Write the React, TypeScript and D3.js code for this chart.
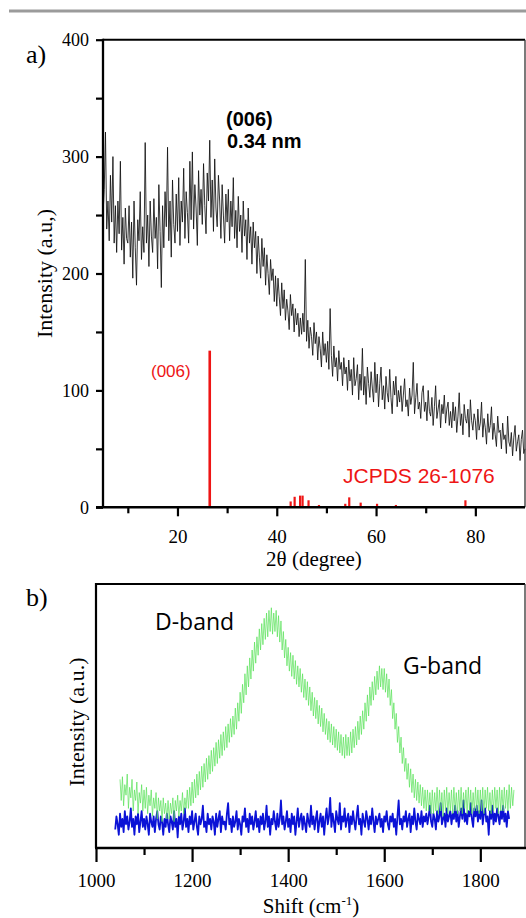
import { useEffect, useRef } from 'react';
import * as d3 from 'd3';

const W = 526;
const H = 918;

const SERIF = '"Liberation Serif", "Times New Roman", serif';
const SANS = '"Liberation Sans", Arial, sans-serif';
const BAND_FONT = '"Open Sans", "Noto Sans", sans-serif';
const RED = '#ee1515';

// a) XRD, 2θ from 5° to 90°, read every 0.25°
const xrdStart = 5;
const xrdStep = 0.25;
const xrdIntensity = [
  250, 272, 321, 238, 262, 228, 284, 244, 300, 226, 258, 218, 262, 234, 296, 220, 248, 208, 256, 230,
  226, 258, 214, 244, 196, 262, 222, 190, 246, 228, 270, 212, 240, 218, 312, 226, 250, 206, 262, 232,
  218, 264, 230, 248, 204, 276, 236, 188, 258, 222, 270, 240, 308, 228, 262, 214, 280, 242, 226, 268,
  236, 282, 224, 262, 244, 290, 230, 270, 252, 226, 296, 246, 304, 238, 276, 256, 224, 288, 250, 272,
  242, 294, 258, 234, 286, 262, 314, 248, 280, 236, 298, 256, 240, 284, 262, 230, 276, 250, 226, 268,
  244, 272, 228, 262, 240, 282, 230, 254, 222, 266, 236, 250, 218, 262, 232, 246, 212, 256, 226, 240,
  208, 244, 222, 236, 200, 232, 214, 196, 230, 206, 222, 190, 216, 200, 182, 212, 194, 204, 176, 198,
  172, 196, 180, 164, 192, 170, 186, 160, 178, 168, 152, 182, 164, 174, 150, 170, 156, 166, 146, 162,
  148, 166, 150, 212, 142, 160, 136, 154, 146, 130, 158, 140, 150, 126, 146, 136, 120, 150, 130, 140,
  124, 142, 118, 170, 130, 112, 138, 120, 128, 108, 134, 118, 124, 104, 128, 114, 120, 100, 126, 108,
  118, 96, 128, 104, 110, 122, 92, 114, 100, 136, 96, 112, 88, 120, 106, 94, 116, 102, 90, 124,
  98, 114, 86, 106, 120, 92, 104, 84, 112, 98, 90, 118, 94, 80, 108, 96, 112, 86, 100, 90,
  104, 82, 96, 110, 86, 92, 78, 102, 88, 96, 124, 80, 94, 106, 84, 90, 76, 98, 104, 82,
  90, 74, 100, 82, 78, 94, 70, 86, 104, 76, 84, 92, 68, 88, 80, 96, 72, 84, 90, 70,
  82, 68, 90, 74, 86, 64, 78, 98, 70, 80, 62, 88, 76, 72, 84, 60, 92, 74, 66, 80,
  74, 58, 84, 66, 72, 90, 60, 76, 68, 54, 80, 64, 70, 86, 58, 72, 62, 52, 78, 64,
  66, 50, 72, 58, 62, 46, 78, 56, 52, 64, 44, 60, 70, 48, 56, 62, 40, 58, 66, 46,
  50,
];

// JCPDS 26-1076 reference lines
const refTheta = [26.5, 42.8, 43.6, 44.7, 45.2, 46.4, 48.5, 53.8, 54.6, 56.9, 60.2, 64.0, 78.0];
const refIntensity = [134, 5, 9, 10, 10, 6, 2, 3, 8.5, 4, 3, 2, 6];

const xMajorA = [20, 40, 60, 80];
const xMinorA = [10, 30, 50, 70];
const yMajorA = [0, 100, 200, 300, 400];
const yMinorA = [50, 150, 250, 350];

// b) Raman, arbitrary intensity, read every 2.5 cm-1
const greenStart = 1050;
const blueStart = 1040;
const ramanStep = 2.5;
const ramanGreen = [
  26, 18, 27, 16, 24, 20, 28, 15, 23, 19, 26, 14, 22, 18, 25, 13, 21, 17, 24, 14,
  22, 15, 23, 13, 20, 16, 22, 12, 19, 15, 21, 11, 19, 14, 18, 10, 19, 13, 17, 11,
  18, 11, 17, 13, 19, 10, 18, 14, 20, 12, 18, 14, 21, 13, 19, 15, 22, 15, 23, 16,
  25, 17, 26, 19, 28, 20, 29, 22, 31, 23, 32, 25, 34, 26, 35, 28, 37, 29, 38, 31,
  40, 32, 41, 34, 43, 35, 44, 37, 46, 38, 47, 40, 49, 42, 50, 43, 53, 45, 55, 48,
  59, 51, 62, 55, 66, 58, 69, 61, 72, 64, 75, 67, 78, 70, 80, 73, 83, 75, 85, 77,
  87, 79, 89, 80, 90, 82, 91, 81, 89, 82, 90, 80, 88, 78, 86, 75, 82, 72, 79, 69,
  76, 67, 74, 65, 73, 64, 71, 62, 69, 61, 68, 59, 66, 57, 64, 56, 63, 54, 61, 52,
  59, 50, 57, 49, 56, 47, 54, 46, 53, 44, 51, 43, 49, 41, 48, 40, 47, 39, 46, 38,
  45, 37, 44, 36, 43, 35, 42, 34, 43, 35, 42, 35, 44, 36, 45, 38, 46, 39, 48, 41,
  50, 43, 52, 45, 55, 48, 58, 50, 61, 54, 63, 56, 65, 58, 67, 60, 69, 61, 68, 60,
  68, 59, 66, 57, 64, 54, 60, 49, 55, 45, 51, 40, 46, 36, 42, 32, 38, 29, 34, 26,
  32, 23, 30, 21, 28, 19, 26, 18, 25, 17, 24, 16, 23, 15, 22, 14, 22, 14, 21, 13,
  22, 13, 21, 14, 23, 13, 22, 14, 21, 12, 22, 14, 23, 13, 21, 14, 22, 13, 23, 14,
  21, 13, 22, 14, 23, 13, 21, 15, 22, 13, 23, 14, 22, 13, 21, 14, 23, 14, 22, 13,
  22, 14, 23, 13, 22, 15, 23, 14, 21, 13, 22, 14, 23, 15, 22, 13, 23, 14, 22, 14,
  23, 15, 22, 14, 24, 15, 23, 16, 22,
];
const ramanBlue = [
  7, 12, 9, 5, 13, 8, 11, 6, 14, 9, 12, 7, 10, 15, 8, 11, 5, 12, 9, 13,
  6, 10, 14, 8, 11, 7, 12, 9, 5, 13, 10, 8, 12, 6, 11, 14, 9, 7, 12, 10,
  5, 11, 8, 13, 9, 6, 12, 10, 7, 14, 8, 11, 4, 12, 9, 13, 7, 10, 15, 8,
  11, 6, 12, 9, 14, 7, 10, 13, 8, 5, 12, 9, 11, 16, 8, 10, 6, 13, 9, 11,
  7, 12, 10, 5, 13, 8, 11, 14, 6, 12, 9, 10, 7, 13, 17, 9, 11, 6, 12, 8,
  10, 14, 7, 11, 9, 5, 12, 10, 15, 8, 11, 6, 13, 9, 12, 7, 10, 14, 8, 11,
  6, 12, 9, 13, 7, 10, 16, 8, 12, 5, 11, 9, 14, 10, 7, 13, 8, 11, 18, 9,
  12, 7, 10, 14, 8, 11, 6, 13, 9, 12, 5, 10, 15, 8, 11, 13, 7, 12, 9, 6,
  13, 10, 8, 16, 9, 12, 7, 11, 14, 6, 10, 13, 8, 12, 5, 11, 15, 9, 12, 19,
  8, 13, 10, 6, 14, 11, 9, 17, 7, 12, 10, 15, 8, 11, 13, 6, 12, 9, 14, 10,
  7, 12, 16, 9, 11, 5, 13, 10, 8, 14, 11, 7, 12, 9, 15, 10, 6, 12, 9, 11,
  13, 8, 11, 6, 12, 10, 14, 9, 7, 12, 10, 13, 8, 11, 5, 12, 18, 9, 11, 7,
  12, 10, 14, 8, 11, 13, 6, 12, 9, 15, 10, 7, 13, 11, 9, 14, 8, 12, 10, 13,
  9, 12, 16, 10, 8, 13, 11, 7, 14, 10, 12, 17, 9, 11, 13, 8, 15, 10, 12, 14,
  9, 13, 11, 16, 10, 14, 8, 12, 15, 11, 18, 10, 13, 9, 14, 12, 17, 11, 8, 15,
  12, 16, 10, 14, 11, 18, 9, 13, 15, 10, 12, 5, 14, 11, 16, 9, 13, 10, 15, 12,
  9, 14, 11, 16, 10, 13, 8, 14, 11,
];

const xMajorB = [1000, 1200, 1400, 1600, 1800];
const xMinorB = [1100, 1300, 1500, 1700];

export default function App() {
  const svgRef = useRef<SVGSVGElement>(null);

  useEffect(() => {
    if (!svgRef.current) return;
    const svg = d3.select(svgRef.current);
    svg.selectAll('*').remove();

    // grey rule at the top of the page
    svg.append('line')
      .attr('x1', 9).attr('x2', W).attr('y1', 11).attr('y2', 11)
      .attr('stroke', '#9b9b9b').attr('stroke-width', 3);

    const styleAxis = (g: any, size: number) => {
      g.select('.domain').remove();
      g.attr('font-family', SERIF).attr('font-size', size);
      g.selectAll('.tick line').attr('stroke', '#000').attr('stroke-width', 2.2);
      g.selectAll('.tick text')
        .attr('fill', '#000')
        .attr('font-family', SERIF)
        .attr('font-size', size);
    };

    // ---------- a) XRD ----------
    const xA = d3.scaleLinear().domain([5, 90]).range([103, 525]);
    const yA = d3.scaleLinear().domain([0, 400]).range([507.3, 39.7]);

    const gA = svg.append('g');

    const xrdLine = d3.line<number>()
      .x((d, i) => xA(xrdStart + i * xrdStep))
      .y(d => yA(d));

    gA.append('path')
      .datum(xrdIntensity)
      .attr('d', xrdLine)
      .attr('fill', 'none')
      .attr('stroke', '#111')
      .attr('stroke-width', 0.85)
      .attr('stroke-linejoin', 'round');

    gA.selectAll('.ref-line')
      .data(refTheta)
      .join('line')
      .attr('class', 'ref-line')
      .attr('x1', d => xA(d)).attr('x2', d => xA(d))
      .attr('y1', yA(0))
      .attr('y2', (d, i) => yA(refIntensity[i]))
      .attr('stroke', RED)
      .attr('stroke-width', (d, i) => (i === 0 ? 2.6 : 2.2));

    // frame
    gA.append('line').attr('x1', xA(5)).attr('x2', xA(90)).attr('y1', yA(400)).attr('y2', yA(400))
      .attr('stroke', '#000').attr('stroke-width', 2);
    gA.append('line').attr('x1', xA(90)).attr('x2', xA(90)).attr('y1', yA(400)).attr('y2', yA(0))
      .attr('stroke', '#333').attr('stroke-width', 1.3);
    gA.append('line').attr('x1', xA(5)).attr('x2', xA(5)).attr('y1', yA(400) - 1).attr('y2', yA(0))
      .attr('stroke', '#000').attr('stroke-width', 2.3);
    gA.append('line').attr('x1', xA(5) - 7).attr('x2', xA(90)).attr('y1', yA(0)).attr('y2', yA(0))
      .attr('stroke', '#000').attr('stroke-width', 2.5);

    gA.append('g')
      .attr('transform', `translate(${xA(5)},0)`)
      .call(d3.axisLeft(yA).tickValues(yMajorA).tickSize(7).tickPadding(7).tickFormat(d3.format('d')))
      .call(g => styleAxis(g, 18));
    gA.append('g')
      .attr('transform', `translate(${xA(5)},0)`)
      .call(d3.axisLeft(yA).tickValues(yMinorA).tickSize(7).tickFormat(() => ''))
      .call(g => styleAxis(g, 18));

    gA.append('g')
      .attr('transform', `translate(0,${yA(0)})`)
      .call(d3.axisBottom(xA).tickValues(xMajorA).tickSize(9).tickPadding(13).tickFormat(d3.format('d')))
      .call(g => styleAxis(g, 19));
    gA.append('g')
      .attr('transform', `translate(0,${yA(0)})`)
      .call(d3.axisBottom(xA).tickValues(xMinorA).tickSize(6).tickFormat(() => ''))
      .call(g => styleAxis(g, 19));

    // titles and labels
    gA.append('text')
      .attr('x', (xA(5) + xA(90)) / 2).attr('y', 566)
      .attr('text-anchor', 'middle')
      .attr('font-family', SERIF).attr('font-size', 21)
      .text('2θ (degree)');

    gA.append('text')
      .attr('transform', `translate(52,${(yA(0) + yA(400)) / 2}) rotate(-90)`)
      .attr('text-anchor', 'middle')
      .attr('font-family', SERIF).attr('font-size', 22)
      .text('Intensity (a.u,)');

    gA.append('text')
      .attr('x', 26).attr('y', 63)
      .attr('font-family', SERIF).attr('font-size', 26)
      .text('a)');

    const peakNote = gA.append('text')
      .attr('font-family', SANS).attr('font-size', 20).attr('font-weight', 'bold');
    peakNote.append('tspan').attr('x', 226).attr('y', 126).text('(006)');
    peakNote.append('tspan').attr('x', 227).attr('y', 148).text('0.34 nm');

    gA.append('text')
      .attr('x', 151).attr('y', 377)
      .attr('font-family', SANS).attr('font-size', 17).attr('fill', RED)
      .text('(006)');

    gA.append('text')
      .attr('x', 343).attr('y', 483)
      .attr('font-family', SANS).attr('font-size', 21).attr('fill', RED)
      .text('JCPDS 26-1076');

    // ---------- b) Raman ----------
    const xB = d3.scaleLinear().domain([1000, 1893]).range([96, 525]);
    const yB = d3.scaleLinear().domain([0, 100]).range([848, 584]);

    const gB = svg.append('g');

    const blueLine = d3.line<number>()
      .x((d, i) => xB(blueStart + i * ramanStep))
      .y(d => yB(d));
    const greenLine = d3.line<number>()
      .x((d, i) => xB(greenStart + i * ramanStep))
      .y(d => yB(d));

    gB.append('path')
      .datum(ramanBlue)
      .attr('d', blueLine)
      .attr('fill', 'none')
      .attr('stroke', '#0b12d6')
      .attr('stroke-width', 1.8)
      .attr('stroke-linejoin', 'round');

    gB.append('path')
      .datum(ramanGreen)
      .attr('d', greenLine)
      .attr('fill', 'none')
      .attr('stroke', '#5ae25a')
      .attr('stroke-width', 0.8)
      .attr('stroke-opacity', 0.9);

    // frame
    gB.append('line').attr('x1', xB(1000)).attr('x2', xB(1893)).attr('y1', yB(100)).attr('y2', yB(100))
      .attr('stroke', '#000').attr('stroke-width', 2);
    gB.append('line').attr('x1', xB(1893)).attr('x2', xB(1893)).attr('y1', yB(100)).attr('y2', yB(0))
      .attr('stroke', '#333').attr('stroke-width', 1.3);
    gB.append('line').attr('x1', xB(1000)).attr('x2', xB(1000)).attr('y1', yB(100) - 1).attr('y2', yB(0))
      .attr('stroke', '#000').attr('stroke-width', 2.2);
    gB.append('line').attr('x1', xB(1000) - 1).attr('x2', W).attr('y1', yB(0)).attr('y2', yB(0))
      .attr('stroke', '#000').attr('stroke-width', 2.3);

    gB.append('g')
      .attr('transform', `translate(0,${yB(0)})`)
      .call(d3.axisBottom(xB).tickValues(xMajorB).tickSize(14).tickPadding(12).tickFormat(d3.format('d')))
      .call(g => styleAxis(g, 19));
    gB.append('g')
      .attr('transform', `translate(0,${yB(0)})`)
      .call(d3.axisBottom(xB).tickValues(xMinorB).tickSize(7).tickFormat(() => ''))
      .call(g => styleAxis(g, 19));

    const shift = gB.append('text')
      .attr('x', 311).attr('y', 913)
      .attr('text-anchor', 'middle')
      .attr('font-family', SERIF).attr('font-size', 21);
    shift.append('tspan').text('Shift (cm');
    shift.append('tspan').attr('font-size', 13).attr('dy', -8).text('-1');
    shift.append('tspan').attr('dy', 8).text(')');

    gB.append('text')
      .attr('transform', 'translate(84,722) rotate(-90)')
      .attr('text-anchor', 'middle')
      .attr('font-family', SERIF).attr('font-size', 22)
      .text('Intensity (a.u.)');

    gB.append('text')
      .attr('x', 26).attr('y', 606)
      .attr('font-family', SERIF).attr('font-size', 26)
      .text('b)');

    gB.append('text')
      .attr('x', 155).attr('y', 630)
      .attr('font-family', BAND_FONT).attr('font-size', 23)
      .text('D-band');
    gB.append('text')
      .attr('x', 403).attr('y', 674)
      .attr('font-family', BAND_FONT).attr('font-size', 23)
      .text('G-band');
  }, []);

  return (
    <svg
      ref={svgRef}
      width={W}
      height={H}
      viewBox={`0 0 ${W} ${H}`}
      style={{ position: 'absolute', left: 0, top: 0, background: '#fff' }}
    />
  );
}
